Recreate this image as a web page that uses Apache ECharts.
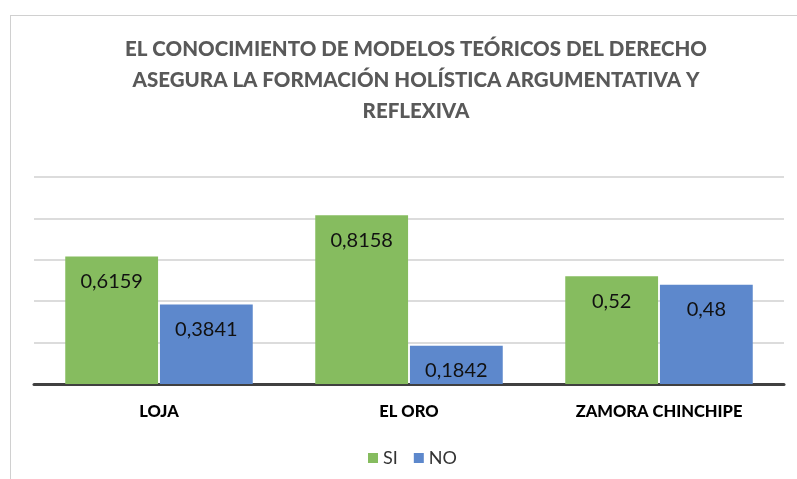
<!DOCTYPE html>
<html>
<head>
<meta charset="utf-8">
<script src="https://cdn.jsdelivr.net/npm/echarts@6/dist/echarts.min.js"></script>
<style>
  html, body { margin: 0; padding: 0; background: #fff; }
  #frame { position: absolute; left: 10px; top: 15px; width: 800px; height: 480px;
           border-left: 1px solid #d0d0d0; border-top: 1px solid #d0d0d0; }
  #main { position: absolute; left: 0; top: 0; width: 797px; height: 479px; }
</style>
</head>
<body>
<div id="frame"></div>
<div id="main"></div>
<script>
const titleText = 'EL CONOCIMIENTO DE MODELOS TEÓRICOS DEL DERECHO\nASEGURA LA FORMACIÓN HOLÍSTICA ARGUMENTATIVA Y\nREFLEXIVA';
const categories = ['LOJA', 'EL ORO', 'ZAMORA CHINCHIPE'];
const siValues = [0.6159, 0.8158, 0.52];
const noValues = [0.3841, 0.1842, 0.48];

const chart = echarts.init(document.getElementById('main'));
const labelStyle = {
  show: true,
  position: 'insideTop',
  distance: 15,
  color: '#111',
  fontSize: 20,
  fontFamily: 'Lato',
  formatter: p => String(p.value).replace('.', ','),
};
chart.setOption({
  animation: false,
  textStyle: { fontFamily: 'Lato' },
  title: {
    text: titleText,
    left: 411,
    top: 29,
    textAlign: 'center',
    textStyle: {
      color: '#595959',
      fontSize: 20.5,
      fontWeight: 900,
      lineHeight: 31,
      fontFamily: 'Lato',
    },
  },
  legend: {
    bottom: 7,
    left: 363,
    itemWidth: 10,
    itemHeight: 10,
    itemGap: 16,
    icon: 'rect',
    textStyle: { fontSize: 18, color: '#333', fontFamily: 'Lato' },
    data: ['SI', 'NO'],
  },
  grid: {
    left: 34,
    right: 13,
    top: 177,
    bottom: 95,
  },
  xAxis: {
    type: 'category',
    data: categories,
    axisLine: { lineStyle: { color: '#404040', width: 3 } },
    axisTick: { show: false },
    axisLabel: {
      color: '#000',
      fontWeight: 900,
      fontSize: 16.5,
      margin: 19,
      fontFamily: 'Lato',
    },
  },
  yAxis: {
    type: 'value',
    min: 0,
    max: 1,
    interval: 0.2,
    axisLabel: { show: false },
    axisLine: { show: false },
    axisTick: { show: false },
    splitLine: { lineStyle: { color: '#d0d0d0', width: 1.5 } },
  },
  series: [
    {
      name: 'SI',
      type: 'bar',
      data: siValues,
      barCategoryGap: '25%',
      barGap: '2%',
      itemStyle: { color: '#86bc5f' },
      label: labelStyle,
    },
    {
      name: 'NO',
      type: 'bar',
      data: noValues,
      itemStyle: { color: '#5d88cc' },
      label: labelStyle,
    },
  ],
});
</script>
</body>
</html>
